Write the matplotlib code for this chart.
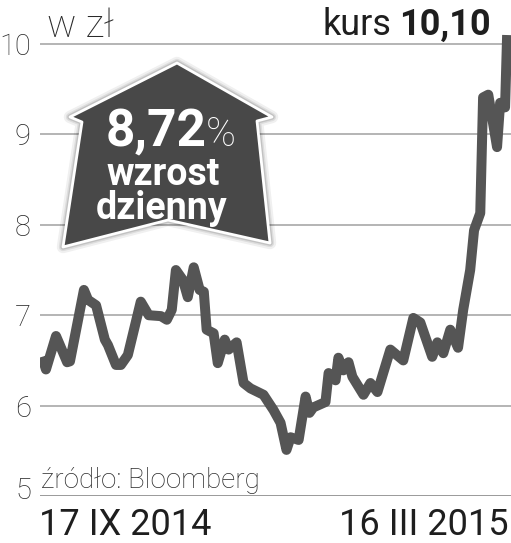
import matplotlib
matplotlib.use("Agg")
import matplotlib.pyplot as plt
from matplotlib.patches import Polygon
import matplotlib.patheffects as pe
import matplotlib.transforms as mtransforms

# ---- data (days since 17 IX 2014, price in zł) ----
days = [0, 1.5, 5.4, 6.6, 9.7, 10.8, 16.2, 17.8, 20.9, 24.3, 25.5, 28.6, 30.5, 33.2,
        38.2, 41.3, 46.0, 48.3, 50.2, 51.8, 54.5, 56.4, 58.7, 61.0, 62.6, 63.7, 66.4,
        68.0, 70.7, 72.2, 75.3, 78.0, 80.7, 85.7, 89.6, 92.3, 94.6, 96.2, 99.3, 102.0,
        103.5, 105.0, 109.7, 110.9, 113.6, 114.7, 116.6, 118.6, 120.1, 124.4, 127.1,
        129.8, 134.8, 139.8, 143.7, 146.4, 151.0, 153.0, 155.3, 158.0, 161.0, 163.0,
        165.7, 167.2, 169.6, 170.7, 172.7, 176.1, 177.3, 179.2, 180.0]
prices = [6.54, 6.40, 6.77, 6.69, 6.48, 6.49, 7.28, 7.17, 7.11, 6.73, 6.67, 6.45, 6.45, 6.56,
          7.15, 7.00, 6.99, 6.95, 7.06, 7.50, 7.39, 7.20, 7.53, 7.28, 7.26, 6.84, 6.80,
          6.47, 6.73, 6.62, 6.70, 6.25, 6.19, 6.12, 5.95, 5.81, 5.51, 5.65, 5.62, 6.10,
          5.92, 5.98, 6.04, 6.36, 6.28, 6.53, 6.39, 6.48, 6.32, 6.12, 6.25,
          6.15, 6.62, 6.50, 6.97, 6.92, 6.54, 6.70, 6.58, 6.84, 6.64, 7.06,
          7.50, 7.94, 8.13, 9.41, 9.44, 8.86, 9.35, 9.30, 10.10]
yticks = [5, 6, 7, 8, 9, 10]
ytick_labels = ["5", "6", "7", "8", "9", "10"]
start_label = "17 IX 2014"
end_label = "16 III 2015"
unit_label = "w zł"
source_label = "źródło: Bloomberg"
change_label = "8,72"
change_words = ["wzrost", "dzienny"]
last_price = "10,10"

W, H = 511, 543
plt.rcParams['font.family'] = ['Roboto', 'DejaVu Sans']
fig = plt.figure(figsize=(W / 100, H / 100), dpi=100)
fig.patch.set_facecolor('white')

def fx(x):
    return x / W

def fy(y):
    return 1 - y / H

# axes: x 40..511 px, y 5 -> 496 px, 10.2 -> 26 px
ax = fig.add_axes([fx(40), fy(496), fx(511) - fx(40), fy(26) - fy(496)])
ax.set_xlim(-0.8, 181.5)
ax.set_ylim(5, 10.2)
for s in ax.spines.values():
    s.set_visible(False)
ax.set_xticks([])
ax.set_yticks(yticks)
ax.set_yticklabels(ytick_labels, fontsize=21, color='#2a2a2a', fontweight='light')
ax.tick_params(axis='y', length=0, pad=6.5)
for v in yticks:
    ax.axhline(v, color='#9a9a9a' if v == 5 else '#b4b4b4', lw=1.4, zorder=1)
# shift the "5" label slightly upward
lab5 = ax.get_yticklabels()[0]
lab5.set_transform(lab5.get_transform() + mtransforms.ScaledTranslation(0, 8 / 100, fig.dpi_scale_trans))

ax.plot(days, prices, color='#555555', lw=7.2, solid_joinstyle='round',
        solid_capstyle='butt', zorder=3)

# ---- arrow-house badge ----
verts = [(177, 63), (272, 117), (257, 121), (270, 243), (168, 220), (63, 247),
         (82, 122), (70, 117)]
poly = Polygon([(fx(x), fy(y)) for x, y in verts], closed=True, transform=fig.transFigure,
               facecolor='#484848', edgecolor='white', lw=2.0, zorder=5,
               joinstyle='round')
poly.set_path_effects([
    pe.Stroke(linewidth=9, foreground='#000000', alpha=0.06),
    pe.Stroke(linewidth=6, foreground='#000000', alpha=0.08),
    pe.Stroke(linewidth=4, foreground='#000000', alpha=0.12),
    pe.Normal()])
fig.add_artist(poly)

fig.text(fx(207), fy(146), change_label, fontsize=37, fontweight='bold', color='white',
         ha='right', va='baseline', zorder=6)
fig.text(fx(206), fy(146), "%", fontsize=29, fontweight='light', color='white',
         ha='left', va='baseline', zorder=6)
fig.text(fx(163), fy(185), change_words[0], fontsize=27, fontweight='bold', color='white',
         ha='center', va='baseline', zorder=6)
fig.text(fx(162), fy(219), change_words[1], fontsize=27, fontweight='bold', color='white',
         ha='center', va='baseline', zorder=6)

# ---- other texts ----
fig.text(fx(47), fy(37), unit_label, fontsize=28, fontweight='light', color='#2a2a2a',
         ha='left', va='baseline')
fig.text(fx(391), fy(35), "kurs", fontsize=26, color='#1e1e1e', ha='right', va='baseline')
fig.text(fx(491), fy(35), last_price, fontsize=26, fontweight='bold', color='#1e1e1e',
         ha='right', va='baseline')
fig.text(fx(41), fy(488), source_label, fontsize=20, fontweight='light', color='#2a2a2a',
         ha='left', va='baseline')
fig.text(fx(39), fy(535), start_label, fontsize=26, color='#1e1e1e', ha='left', va='baseline')
fig.text(fx(509), fy(535), end_label, fontsize=26, color='#1e1e1e', ha='right', va='baseline')

fig.savefig('out.png', dpi=100, facecolor='white')
